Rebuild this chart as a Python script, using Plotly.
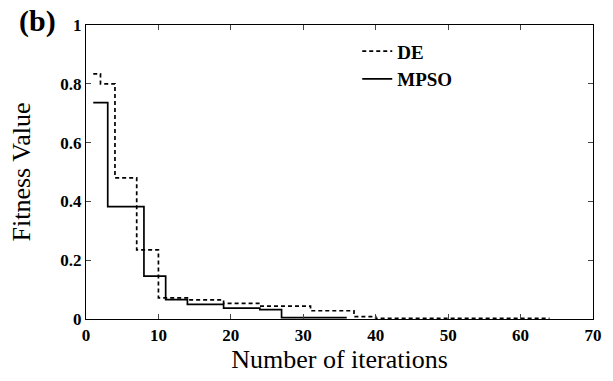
import plotly.graph_objects as go

de_x = [1, 2, 4, 7, 10, 14, 19, 24, 31, 37, 40, 64]
de_y = [0.834, 0.80, 0.48, 0.235, 0.072, 0.065, 0.053, 0.044, 0.028, 0.008, 0.002, 0.002]

mpso_x = [1, 3, 8, 11, 14, 19, 24, 27, 36]
mpso_y = [0.736, 0.382, 0.146, 0.066, 0.05, 0.037, 0.032, 0.005, 0.005]

x_ticks = [0, 10, 20, 30, 40, 50, 60, 70]
y_ticks = [0, 0.2, 0.4, 0.6, 0.8, 1]
y_tick_labels = ["0", "0.2", "0.4", "0.6", "0.8", "1"]

fig = go.Figure()
fig.add_trace(go.Scatter(x=de_x, y=de_y, mode="lines", name="DE",
                         line=dict(shape="hv", color="black", width=1.7, dash="4px,3px")))
fig.add_trace(go.Scatter(x=mpso_x, y=mpso_y, mode="lines", name="MPSO",
                         line=dict(shape="hv", color="black", width=1.7)))

font_serif = "Liberation Serif, Times New Roman, serif"
fig.update_layout(
    width=613, height=381,
    margin=dict(l=86, r=20, t=25, b=62),
    paper_bgcolor="white", plot_bgcolor="white",
    font=dict(family=font_serif, color="black"),
    showlegend=True,
    legend=dict(x=0.535, y=0.975, xanchor="left", yanchor="top",
                bgcolor="rgba(0,0,0,0)",
                font=dict(family=font_serif, size=19, color="black", weight="bold"),
                itemwidth=30, tracegroupgap=0),
    xaxis=dict(range=[0, 70], tickvals=x_ticks, ticks="inside", ticklen=5,
               showline=True, linecolor="black", linewidth=1.3, mirror="allticks",
               showgrid=False, zeroline=False, automargin=False,
               tickfont=dict(family=font_serif, size=17, color="black", weight="bold"),
               title=dict(text="Number of iterations", font=dict(family=font_serif, size=26, color="black"),
                          standoff=0)),
    yaxis=dict(range=[0, 1], tickvals=y_ticks, ticktext=y_tick_labels, ticks="inside", ticklen=5,
               showline=True, linecolor="black", linewidth=1.3, mirror="allticks",
               showgrid=False, zeroline=False, automargin=False,
               tickfont=dict(family=font_serif, size=17, color="black", weight="bold"),
               title=dict(text="Fitness Value", font=dict(family=font_serif, size=26, color="black"),
                          standoff=22)),
    annotations=[dict(text="<b>(b)</b>", x=-0.137, y=1.078, xref="paper", yref="paper", showarrow=False,
                      xanchor="left", yanchor="top", font=dict(family=font_serif, size=30, color="black"))],
)
fig.write_html("out.html")
